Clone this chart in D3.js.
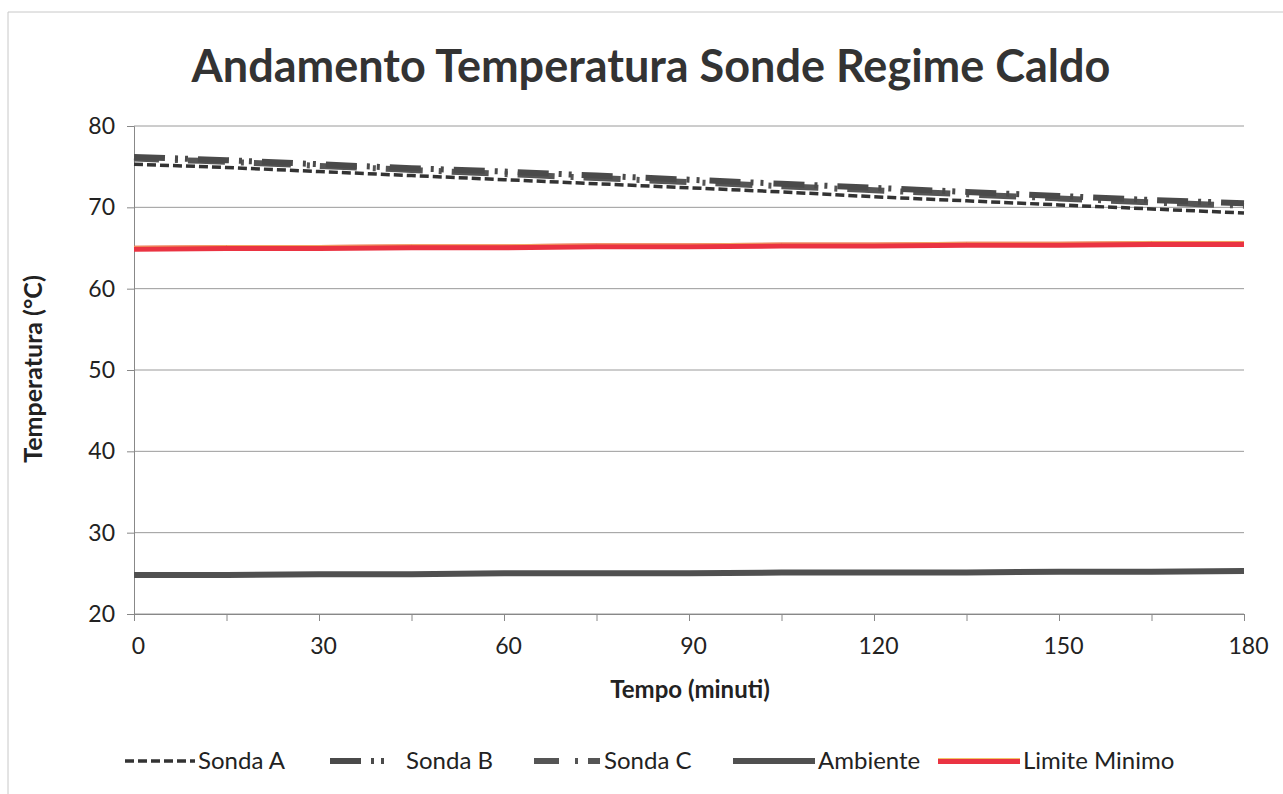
<!DOCTYPE html>
<html><head><meta charset="utf-8">
<script src="https://cdn.jsdelivr.net/npm/d3@7"></script>
<style>body{margin:0;background:#fff}svg{display:block}</style>
</head><body>
<svg id="c" width="1283" height="794"></svg>
<script>
const minutes = [0,15,30,45,60,75,90,105,120,135,150,165,180];
const sondaA = [75.3,74.9,74.4,73.9,73.4,72.9,72.4,71.9,71.3,70.8,70.3,69.8,69.3];
const sondaB = [76.2,75.8,75.3,74.8,74.4,73.9,73.4,72.9,72.4,71.9,71.4,70.9,70.5];
const sondaC = [76.0,75.6,75.1,74.6,74.1,73.6,73.1,72.6,72.1,71.6,71.1,70.6,70.2];
const ambiente = [24.8,24.8,24.9,24.9,25.0,25.0,25.0,25.1,25.1,25.1,25.2,25.2,25.3];
const limite = [64.9,65.0,65.0,65.1,65.1,65.2,65.2,65.3,65.3,65.4,65.4,65.5,65.5];
const yTicks = [20,30,40,50,60,70,80];
const xTicks = [0,30,60,90,120,150,180];
const xMinor = [0,15,30,45,60,75,90,105,120,135,150,165,180];

const svg = d3.select("#c");
const font = "Lato, 'Open Sans', sans-serif";
const L=134,R=1244,T=126,B=614;
const x = d3.scaleLinear().domain([0,180]).range([L,R]);
const y = d3.scaleLinear().domain([20,80]).range([B,T]);

// outer frame
svg.append("path").attr("d","M8,794 L8,12 L1283,12").attr("fill","none").attr("stroke","#c8c8c8").attr("stroke-width",1);

svg.append("text").attr("x",651).attr("y",82).attr("text-anchor","middle")
  .attr("font-family",font).attr("font-weight","bold").attr("font-size",45).attr("fill","#333")
  .text("Andamento Temperatura Sonde Regime Caldo");

// grid
svg.append("g").selectAll("line").data(yTicks).join("line")
  .attr("x1",L).attr("x2",R).attr("y1",d=>y(d)).attr("y2",d=>y(d))
  .attr("stroke","#9a9a9a").attr("stroke-width",1);

// axes
const yAxis = d3.axisLeft(y).tickValues(yTicks).tickSize(7).tickPadding(12);
const gy = svg.append("g").attr("transform",`translate(${L},0)`).call(yAxis);
gy.selectAll("text").attr("font-family",font).attr("font-size",23).attr("fill","#222");
gy.selectAll("line").attr("stroke","#888");
gy.select(".domain").attr("stroke","#888");

const xAxisMinor = d3.axisBottom(x).tickValues(xMinor).tickSize(7).tickFormat("");
const gxm = svg.append("g").attr("transform",`translate(0,${B})`).call(xAxisMinor);
gxm.selectAll("line").attr("stroke","#888");
gxm.select(".domain").attr("stroke","#888");
const xAxis = d3.axisBottom(x).tickValues(xTicks).tickSize(0).tickPadding(24);
const gx = svg.append("g").attr("transform",`translate(4,${B})`).call(xAxis);
gx.select(".domain").remove();
gx.selectAll("text").attr("font-family",font).attr("font-size",23).attr("fill","#222");

svg.append("text").attr("x",690).attr("y",698).attr("text-anchor","middle")
  .attr("font-family",font).attr("font-weight","bold").attr("font-size",24).attr("fill","#222")
  .text("Tempo (minuti)");
svg.append("text").attr("transform","translate(42,369) rotate(-90)").attr("text-anchor","middle")
  .attr("font-family",font).attr("font-weight","bold").attr("font-size",25).attr("fill","#222")
  .text("Temperatura (°C)");

const series = [
  {name:"Sonda A", vals:sondaA, color:"#333", w:3.5, dash:"9,4", legX:125, len:70, gap:3},
  {name:"Sonda B", vals:sondaB, color:"#4a4a4a", w:6, dash:"31,10,3,7,3,10", legX:330, len:55, gap:21},
  {name:"Sonda C", vals:sondaC, color:"#555", w:6, dash:"25,16,3,10,12,0", legX:534, len:66, gap:4},
  {name:"Ambiente", vals:ambiente, color:"#505050", w:6, dash:null, legX:733, len:82, gap:3},
  {name:"Limite Minimo", vals:limite, color:"#ea3342", w:6, dash:null, legX:938, len:82, gap:3}
];
const line = d3.line().x((d,i)=>x(minutes[i])).y(d=>y(d));
const order = [3,4,0,2,1];
order.forEach(k=>{
  const s = series[k];
  const p = svg.append("path").datum(s.vals).attr("d",line).attr("fill","none")
    .attr("stroke",s.color).attr("stroke-width",s.w).attr("stroke-linecap","butt");
  if(s.dash) p.attr("stroke-dasharray",s.dash);
  if(s.name==="Limite Minimo"){
    svg.append("path").datum(s.vals).attr("d",d3.line().x((d,i)=>x(minutes[i])).y(d=>y(d)-2.5))
      .attr("fill","none").attr("stroke","#f2c26a").attr("stroke-width",1).attr("opacity",0.8);
  }
});

// legend
const lg = svg.append("g");
series.forEach(s=>{
  const ly = 761;
  const p = lg.append("line").attr("x1",s.legX).attr("x2",s.legX+s.len).attr("y1",ly).attr("y2",ly)
    .attr("stroke",s.color).attr("stroke-width",s.w);
  if(s.dash) p.attr("stroke-dasharray",s.dash);
  if(s.name==="Limite Minimo") lg.append("line").attr("x1",s.legX).attr("x2",s.legX+s.len).attr("y1",ly-2.5).attr("y2",ly-2.5).attr("stroke","#f2c26a").attr("stroke-width",1);
  lg.append("text").attr("x",s.legX+s.len+s.gap).attr("y",ly+8).attr("font-family",font).attr("font-size",24).attr("fill","#222").text(s.name);
});
</script>
</body></html>
